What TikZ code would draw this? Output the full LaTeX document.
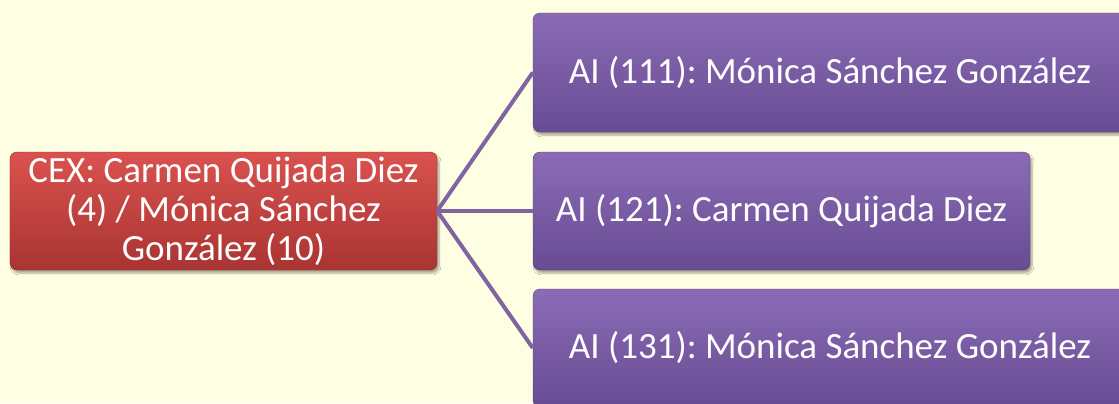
\documentclass[tikz,border=0pt]{standalone}
\usepackage{fontspec}
\setmainfont{Carlito}
\frenchspacing
\usetikzlibrary{shadows.blur}
\definecolor{bg}{HTML}{FEFEE2}
\definecolor{redtop}{HTML}{DA524F}
\definecolor{redbot}{HTML}{A93432}
\definecolor{purtop}{HTML}{8B6BB6}
\definecolor{purbot}{HTML}{684C93}
\definecolor{conn}{HTML}{8064A2}
\tikzset{
  box/.style={rounded corners=7bp, inner sep=0pt, text=white, align=center,
    font=\fontsize{37bp}{39bp}\selectfont,
    blur shadow={shadow xshift=2bp, shadow yshift=-3bp, shadow blur steps=6, shadow opacity=35}},
  redbox/.style={box, top color=redtop, bottom color=redbot, draw=redbot!80!black, line width=0.4bp},
  purbox/.style={box, top color=purtop, bottom color=purbot, draw=purbot!80!black, line width=0.4bp},
  connector/.style={draw=conn, line width=4bp}
}
\begin{document}
\begin{tikzpicture}[x=1bp,y=-1bp]
\useasboundingbox (0,0) rectangle (1119,403);
\fill[bg] (0,0) rectangle (1119,403);
\node[redbox, minimum width=427bp, minimum height=118bp] (cex) at (223.5,211)
  {CEX: Carmen Quijada Diez\\(4) / Mónica Sánchez\\González (10)};
\node[purbox, minimum width=594bp, minimum height=119bp] (a1) at (830,72.5)
  {AI (111): Mónica Sánchez González};
\node[purbox, minimum width=497bp, minimum height=118bp] (a2) at (781.5,211)
  {AI (121): Carmen Quijada Diez};
\node[purbox, minimum width=594bp, minimum height=118bp] (a3) at (830,348)
  {AI (131): Mónica Sánchez González};
\draw[connector] (cex.east) -- (a1.west);
\draw[connector] (cex.east) -- (a2.west);
\draw[connector] (cex.east) -- (a3.west);
\end{tikzpicture}
\end{document}
